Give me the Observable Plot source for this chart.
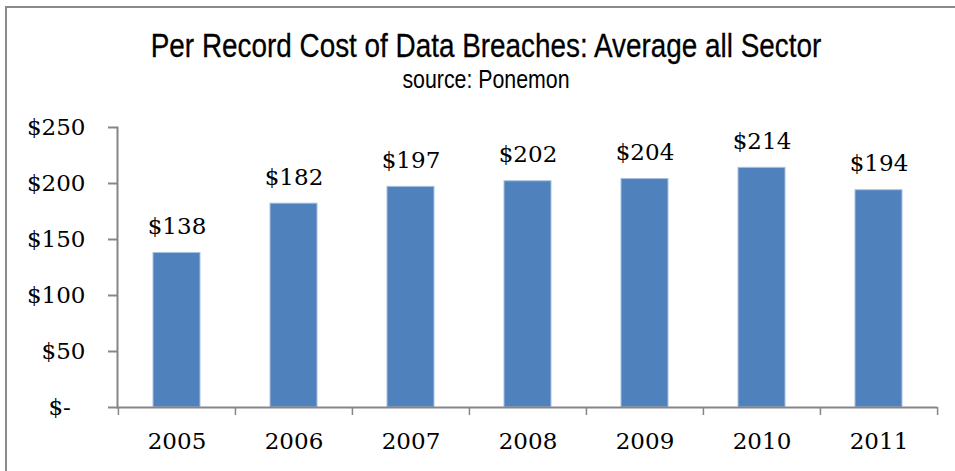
<!DOCTYPE html>
<html>
<head>
<meta charset="utf-8">
<script src="https://cdn.jsdelivr.net/npm/d3@7"></script>
<script src="https://cdn.jsdelivr.net/npm/@observablehq/plot@0.6"></script>
<style>
  html, body { margin: 0; padding: 0; background: #fff; overflow: hidden; width: 955px; height: 471px; }
  #frame { position: absolute; left: 5px; top: 6px; width: 1200px; height: 1200px; border: 2px solid #8a8a8a; box-sizing: border-box; pointer-events: none; }
  .ttl { position: absolute; left: 6px; width: 960px; text-align: center; font-family: "Liberation Sans", Arial, sans-serif; color: #000; transform: scaleX(0.82); transform-origin: 480px 0; white-space: nowrap; }
  #title { top: 28px; font-size: 34px; line-height: 34px; -webkit-text-stroke: 0.3px #000; }
  #subtitle { top: 66px; font-size: 26px; line-height: 26px; }
  #chart { position: absolute; left: 0; top: 100px; }
</style>
</head>
<body>
<div id="frame"></div>
<div id="title" class="ttl">Per Record Cost of Data Breaches: Average all Sector</div>
<div id="subtitle" class="ttl">source: Ponemon</div>
<div id="chart"></div>
<script>
const years = ["2005", "2006", "2007", "2008", "2009", "2010", "2011"];
const costs = [138, 182, 197, 202, 204, 214, 194];
const yTicks = [0, 50, 100, 150, 200, 250];

const data = years.map((year, i) => ({year, cost: costs[i]}));

const width = 955, height = 371;
const marginLeft = 117, marginRight = 18, marginTop = 27, marginBottom = 64;
const step = (width - marginLeft - marginRight) / years.length;
const serif = "DejaVu Serif, serif";
const axisColor = "#868686";

const chart = Plot.plot({
  width, height, marginLeft, marginRight, marginTop, marginBottom,
  style: {fontFamily: serif, fontSize: "23px", color: "#000", background: "transparent", overflow: "visible"},
  x: {domain: years, paddingInner: 0.6, paddingOuter: 0.3, axis: null, label: null},
  y: {domain: [0, 250], axis: null, label: null},
  marks: [
    Plot.barY(data, {x: "year", y: "cost", fill: "#4F81BD", stroke: "#A9C2E0", strokeWidth: 1}),
    Plot.text(data, {x: "year", y: "cost", text: d => "$" + d.cost, lineAnchor: "bottom", dy: -19, fontFamily: serif, fontSize: 23, fill: "#000"}),
    // y axis
    Plot.axisY({ticks: yTicks, tickSize: 9, tickPadding: 23, label: null, stroke: axisColor, strokeWidth: 2,
      tickFormat: d => d === 0 ? "$-\u2007" : "$" + d, fontFamily: serif, fontSize: 23, fill: "#000"}),
    Plot.frame({anchor: "left", stroke: axisColor, strokeWidth: 2, strokeOpacity: 1}),
    Plot.ruleY([0], {stroke: axisColor, strokeWidth: 2}),
    // x labels
    Plot.axisX({tickSize: 0, tickPadding: 25, label: null, fontFamily: serif, fontSize: 23, fill: "#000"}),
    // category boundary ticks
    Plot.axisX({tickSize: 8, tickFormat: null, label: null, dx: -step / 2, stroke: axisColor, strokeWidth: 1.5}),
    Plot.axisX({ticks: [years[years.length - 1]], tickSize: 8, tickFormat: null, label: null, dx: step / 2, stroke: axisColor, strokeWidth: 1.5})
  ]
});
document.getElementById("chart").appendChild(chart);
</script>
</body>
</html>
